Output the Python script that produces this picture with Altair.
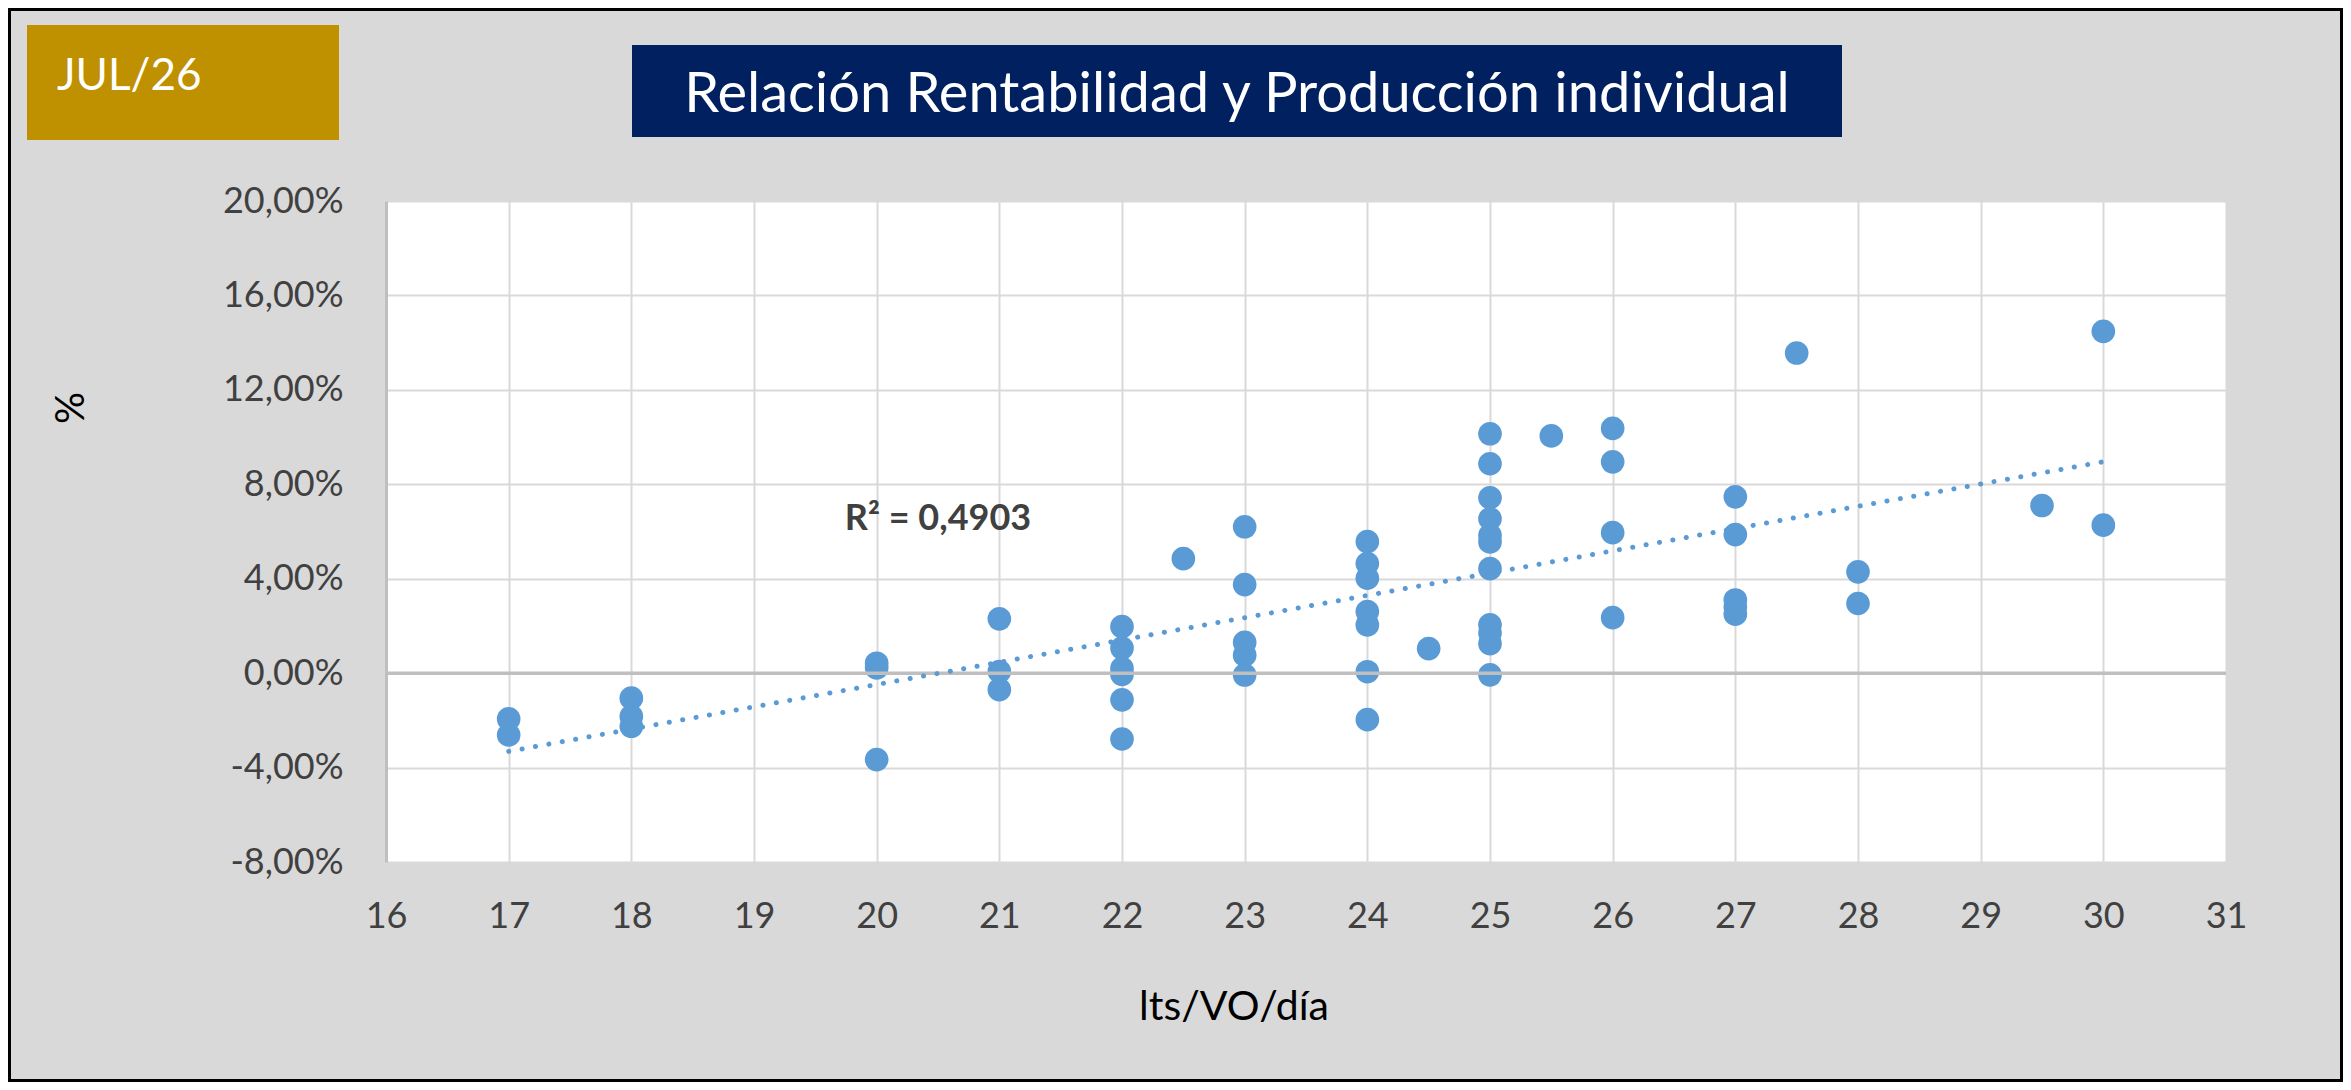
import altair as alt
import pandas as pd

# ---- data ----
x_vals = [17, 17,
          18, 18, 18,
          20, 20, 20,
          21, 21, 21,
          22, 22, 22, 22, 22, 22,
          22.5,
          23, 23, 23, 23, 23,
          24, 24, 24, 24, 24, 24, 24,
          24.5,
          25, 25, 25, 25, 25, 25, 25, 25, 25, 25, 25,
          25.5,
          26, 26, 26, 26,
          27, 27, 27, 27, 27,
          27.5,
          28, 28,
          29.5,
          30, 30]
y_pct = [-1.94, -2.62,
         -1.06, -1.83, -2.25,
         0.42, 0.22, -3.66,
         2.30, 0.07, -0.70,
         1.97, 1.06, 0.20, -0.05, -1.13, -2.79,
         4.85,
         6.20, 3.75, 1.30, 0.76, -0.08,
         5.57, 4.64, 4.02, 2.61, 2.04, 0.06, -1.97,
         1.04,
         10.14, 8.87, 7.43, 6.54, 5.84, 5.56, 4.43, 2.05, 1.70, 1.25, -0.07,
         10.05,
         10.37, 8.95, 5.95, 2.35,
         7.47, 5.87, 3.10, 2.80, 2.50,
         13.56,
         4.29, 2.95,
         7.10,
         14.48, 6.27]
x_ticks = list(range(16, 32))
y_ticks = [-0.08, -0.04, 0.0, 0.04, 0.08, 0.12, 0.16, 0.20]

badge_text = "JUL/26"
title_text = "Relación Rentabilidad y Producción individual"
x_title = "lts/VO/día"
y_title = "%"
r2_text = "R² = 0,4903"

df = pd.DataFrame({"x": x_vals, "y": [v / 100 for v in y_pct]})
one = pd.DataFrame({"a": [0]})

W, H = 1840, 661
PL, PT, PR, PB = 378, 193, 117, 220
FONT = "Lato"

xscale = alt.Scale(domain=[16, 31], nice=False, zero=False)
yscale = alt.Scale(domain=[-0.08, 0.20], nice=False, zero=False)

xaxis = alt.Axis(values=x_ticks, format="d", title=None, grid=True,
                 gridColor="#d9d9d9", gridWidth=2, domain=False,
                 ticks=False, tickSize=0, labelFont=FONT, labelFontSize=36,
                 labelColor="#404040", labelPadding=54, labelBaseline="middle",
                 labelFlush=False)
yaxis = alt.Axis(values=y_ticks, title=None, grid=True,
                 gridColor="#d9d9d9", gridWidth=2, domain=True,
                 domainColor="#bfbfbf", domainWidth=3,
                 ticks=False, tickSize=0, labelFont=FONT, labelFontSize=36,
                 labelColor="#404040", labelPadding=43, labelAlign="right",
                 labelBaseline="middle",
                 labelExpr="replace(replace(format(datum.value, '.2%'), '.', ','), '\u2212', '-')")

X = alt.X("x:Q", scale=xscale, axis=xaxis)
Y = alt.Y("y:Q", scale=yscale, axis=yaxis)

base = alt.Chart(df)

points = base.mark_circle(size=560, color="#5b9bd5", opacity=1).encode(x=X, y=Y)

zero_rule = alt.Chart(pd.DataFrame({"y": [0.0]})).mark_rule(
    color="#bfbfbf", strokeWidth=3.5).encode(y=Y)

trend = base.transform_regression("x", "y").mark_line(
    color="#5b9bd5", strokeWidth=5, strokeDash=[0.1, 13.5], strokeCap="round"
).encode(x=X, y=Y)

r2 = alt.Chart(pd.DataFrame({"x": [20.5], "y": [0.0655]})).mark_text(
    text=r2_text, font=FONT, fontSize=36, fontWeight="bold", color="#404040",
    align="center", baseline="middle").encode(x=X, y=Y)

badge_box = alt.Chart(one).mark_rect(color="#bf9000").encode(
    x=alt.value(-359), x2=alt.value(-47), y=alt.value(-176), y2=alt.value(-61))
badge_lbl = alt.Chart(one).mark_text(
    text=badge_text, font=FONT, fontSize=44, color="white",
    align="left", baseline="alphabetic").encode(
    x=alt.value(-329), y=alt.value(-111))

title_box = alt.Chart(one).mark_rect(color="#002060").encode(
    x=alt.value(246), x2=alt.value(1456), y=alt.value(-156), y2=alt.value(-64))
title_lbl = alt.Chart(one).mark_text(
    text=title_text, font=FONT, fontSize=56, color="white",
    align="center", baseline="alphabetic").encode(
    x=alt.value(851), y=alt.value(-89))

xt = alt.Chart(one).mark_text(
    text=x_title, font=FONT, fontSize=41, color="#000000",
    align="center", baseline="alphabetic").encode(
    x=alt.value(848), y=alt.value(819))
yt = alt.Chart(one).mark_text(
    text=y_title, font=FONT, fontSize=40, color="#000000", angle=270,
    align="center", baseline="middle").encode(
    x=alt.value(-314), y=alt.value(207))

border = alt.Chart(one).mark_rect(filled=False, stroke="#000000", strokeWidth=3).encode(
    x=alt.value(-PL + 1.5), x2=alt.value(W + PR - 1.5),
    y=alt.value(-PT + 1.5), y2=alt.value(H + PB - 1.5))

chart = alt.layer(
    points, zero_rule, trend, r2, badge_box, badge_lbl, title_box, title_lbl,
    xt, yt, border
).properties(
    width=W, height=H,
    autosize=alt.AutoSizeParams(type="none"),
    padding={"left": PL, "top": PT, "right": PR, "bottom": PB},
    background="#d9d9d9",
).configure_view(fill="white", stroke=None)

chart.save("out.html", embed_options={"renderer": "svg", "actions": False})
